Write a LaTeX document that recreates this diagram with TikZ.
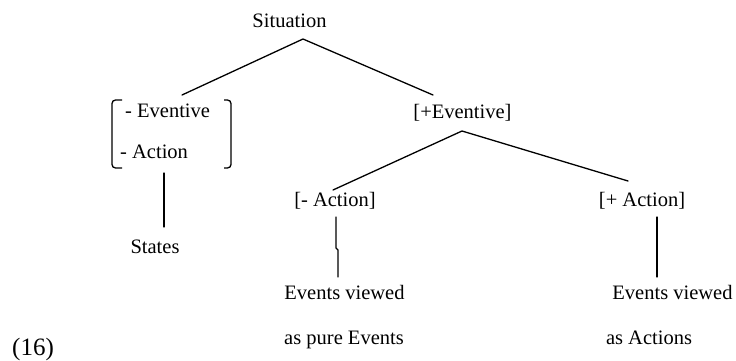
\documentclass[tikz,border=0pt]{standalone}
\usepackage{fontspec}
\setmainfont{Liberation Serif}
\begin{document}
\begin{tikzpicture}[x=1pt,y=-1pt,
  lbl/.style={anchor=base,inner sep=0pt,font=\fontsize{20.5}{24}\selectfont},
  lbll/.style={lbl,anchor=base west},
  branch/.style={line width=1.3pt,line cap=round},
  brk/.style={line width=1.3pt,rounded corners=3.5pt}]
\useasboundingbox (0,0) rectangle (736,361);
% labels
\node[lbl] (sit) at (289.5,28) {Situation};
\node[lbl] (pev) at (462.5,118) {[+Eventive]};
\node[lbll] (mev) at (125,117) {- Eventive};
\node[lbll] (mac) at (120,158) {- Action};
\node[lbl] (mact) at (335,206) {[- Action]};
\node[lbl] (pact) at (642,206) {[+ Action]};
\node[lbl] (states) at (155,253) {States};
\node[lbl] (evl1) at (344.5,299) {Events viewed};
\node[lbl] (evl2) at (344,344) {as pure Events};
\node[lbl] (evr1) at (672.5,299) {Events viewed};
\node[lbl] (evr2) at (649,344) {as Actions};
\node[anchor=base west,inner sep=0pt,font=\fontsize{25}{30}\selectfont] (num) at (12,355) {(16)};
% bracket
\draw[brk] (122,100) -- (112,100) -- (112,168) -- (122,168);
\draw[brk] (224,100) -- (231,100) -- (231,168) -- (224,168);
% tree points
\coordinate (sitfoot) at (303,39);
\coordinate (mevtop) at (182,95);
\coordinate (pevtop) at (433,95);
\coordinate (pevfoot) at (462,131);
\coordinate (macttop) at (333,190);
\coordinate (pacttop) at (628,181);
\coordinate (brkfoot) at (164,173);
\coordinate (statestop) at (164,227);
\coordinate (mactfoot) at (336,217);
\coordinate (evl1top) at (338,277);
\coordinate (pactfoot) at (657,217);
\coordinate (evr1top) at (657,277);
% connectors
\draw[branch] (mevtop) -- (sitfoot) -- (pevtop);
\draw[branch] (macttop) -- (pevfoot) -- (pacttop);
\draw[branch] (brkfoot) -- (statestop);
\draw[branch] (mactfoot) -- (336,248) -- (338,250) -- (evl1top);
\draw[branch] (pactfoot) -- (evr1top);
\end{tikzpicture}
\end{document}
